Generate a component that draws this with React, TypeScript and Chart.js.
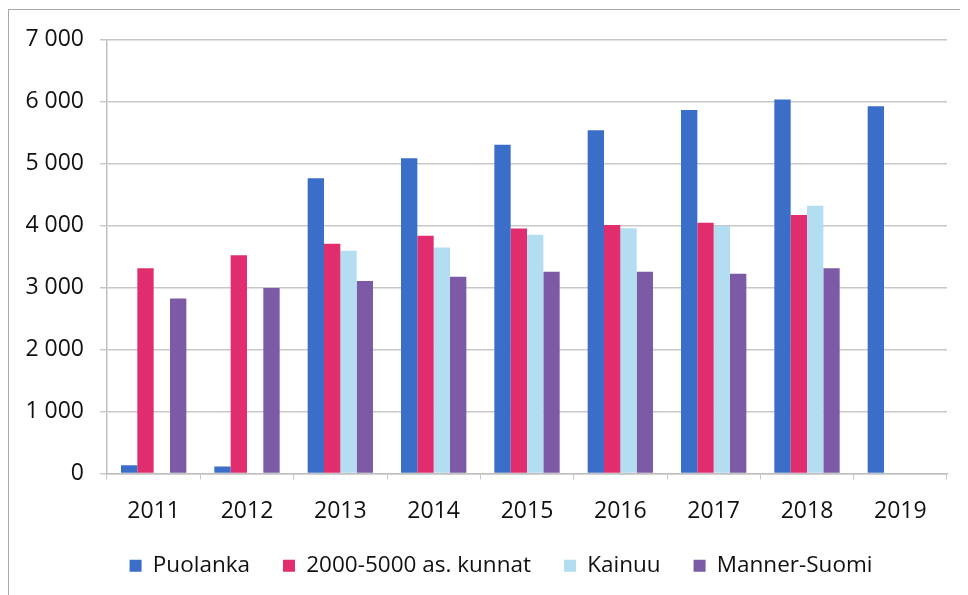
import React, { useEffect, useRef } from "react";
import { Chart, registerables } from "chart.js";

Chart.register(...registerables);

const categories = ["2011", "2012", "2013", "2014", "2015", "2016", "2017", "2018", "2019"];
const puolanka = [133, 112, 4767, 5087, 5306, 5540, 5865, 6036, 5929];
const kunnat = [3313, 3521, 3708, 3836, 3953, 4011, 4049, 4171, null];
const kainuu = [null, null, 3596, 3649, 3852, 3958, 3996, 4320, null];
const mannerSuomi = [2824, 2992, 3106, 3175, 3255, 3255, 3223, 3313, null];
const seriesNames = ["Puolanka", "2000-5000 as. kunnat", "Kainuu", "Manner-Suomi"];
const colors = ["#3a6ec8", "#e12d6e", "#b3ddf0", "#7d5aa5"];

const fontFamily = "'Open Sans', 'Noto Sans', sans-serif";

const legendShift = {
  id: "legendShift",
  afterLayout(chart: any) {
    const lg = chart.legend;
    if (lg) {
      lg.left += 23;
      lg.right += 23;
    }
  },
};

export default function App() {
  const ref = useRef<HTMLCanvasElement | null>(null);
  useEffect(() => {
    if (!ref.current) return;
    const data = [puolanka, kunnat, kainuu, mannerSuomi];
    const chart = new Chart(ref.current, {
      type: "bar",
      data: {
        labels: categories,
        datasets: seriesNames.map((name, i) => ({
          label: name,
          data: data[i],
          backgroundColor: colors[i],
          borderWidth: 0,
          categoryPercentage: 0.7,
          barPercentage: 1.0,
        })),
      },
      plugins: [legendShift],
      options: {
        animation: false,
        responsive: false,
        maintainAspectRatio: false,
        layout: { padding: { top: 29, right: 20, left: 0, bottom: 7 } },
        plugins: {
          tooltip: { enabled: false },
          legend: {
            position: "bottom",
            labels: {
              boxWidth: 12,
              boxHeight: 12,
              padding: 33,
              color: "#111",
              font: { family: fontFamily, size: 22.5 },
            },
          },
        },
        scales: {
          x: {
            afterFit: (s: any) => {
              s.height = 48;
            },
            grid: {
              offset: true,
              drawOnChartArea: false,
              drawTicks: true,
              tickLength: 6,
              color: "#c8c8c8",
            },
            border: { display: true, color: "#c0c0c0", width: 1.5 },
            ticks: {
              color: "#111",
              padding: 18,
              font: { family: fontFamily, size: 23 },
            },
          },
          y: {
            min: 0,
            max: 7000,
            afterFit: (s: any) => {
              s.width = 98;
            },
            grid: {
              color: "#c8c8c8",
              lineWidth: 1.5,
              drawTicks: true,
              tickLength: 7,
            },
            border: { display: true, color: "#c0c0c0", width: 1.5 },
            ticks: {
              stepSize: 1000,
              color: "#111",
              padding: 16,
              font: { family: fontFamily, size: 23 },
              callback: (v: any) => {
                const n = Number(v);
                if (n >= 1000) {
                  const th = Math.floor(n / 1000);
                  const rest = String(n % 1000).padStart(3, "0");
                  return th + " " + rest;
                }
                return String(n);
              },
            },
          },
        },
      },
    });
    return () => chart.destroy();
  }, []);
  return (
    <div
      style={{
        width: 960,
        height: 586,
        borderTop: "1.5px solid #a8a8a8",
        borderLeft: "1.5px solid #a8a8a8",
        marginTop: 1,
        background: "#fff",
        boxSizing: "border-box",
      }}
    >
      <canvas ref={ref} width={958} height={584} style={{ display: "block" }} />
    </div>
  );
}
